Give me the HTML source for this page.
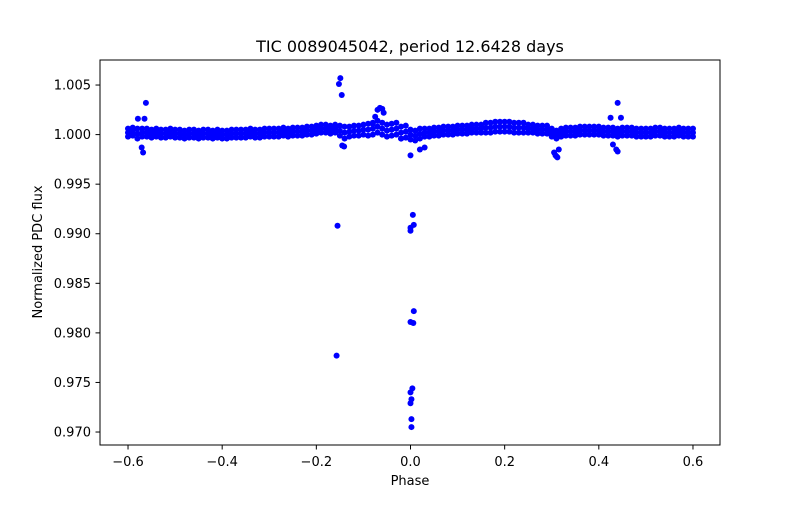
<!DOCTYPE html>
<html><head><meta charset="utf-8"><style>
body{margin:0;background:#fff;font-family:"Liberation Sans","DejaVu Sans",sans-serif}
svg text{font-family:"DejaVu Sans","Liberation Sans",sans-serif}
</style></head><body>
<svg id="chart" width="800" height="500" xmlns="http://www.w3.org/2000/svg">
<rect width="800" height="500" fill="#fff"/>
<text x="410" y="52" font-size="16" text-anchor="middle">TIC 0089045042, period 12.6428 days</text>
<g id="points"></g>
<rect x="100" y="60" width="620" height="385" fill="none" stroke="#000" stroke-width="1"/>
<g id="xaxis"></g>
<g id="yaxis"></g>
<text x="410" y="485" font-size="13" text-anchor="middle">Phase</text>
<text transform="translate(42,252) rotate(-90)" font-size="13" text-anchor="middle">Normalized PDC flux</text>
</svg>
<script>
const xTicks=[-0.6,-0.4,-0.2,0.0,0.2,0.4,0.6];
const xTickLabels=["−0.6","−0.4","−0.2","0.0","0.2","0.4","0.6"];
const yTicks=[0.970,0.975,0.980,0.985,0.990,0.995,1.000,1.005];
const yTickLabels=["0.970","0.975","0.980","0.985","0.990","0.995","1.000","1.005"];
const basePhaseStart=-0.60;
const basePhaseStep=0.01;
const baseFlux=[1.0002,1.0003,1.0001,1.0002,1.0002,1.0001,1.0002,1.0001,1.0001,1.0002,
1.0001,1.0001,1.0000,1.0001,1.0001,1.0000,1.0001,1.0001,1.0000,1.0001,
1.0000,1.0000,1.0001,1.0001,1.0001,1.0001,1.0002,1.0001,1.0001,1.0002,
1.0002,1.0002,1.0002,1.0003,1.0002,1.0003,1.0003,1.0003,1.0004,1.0004,
1.0005,1.0006,1.0006,1.0005,1.0006,1.0004,1.0002,1.0003,1.0004,1.0004,
1.0005,1.0005,1.0006,1.0008,1.0006,1.0004,1.0005,1.0006,1.0002,1.0003,
1.0000,0.9999,1.0001,1.0002,1.0002,1.0003,1.0003,1.0004,1.0004,1.0004,
1.0005,1.0005,1.0005,1.0006,1.0006,1.0006,1.0007,1.0007,1.0008,1.0008,
1.0008,1.0008,1.0007,1.0007,1.0007,1.0006,1.0006,1.0005,1.0005,1.0005,
1.0002,1.0000,1.0002,1.0003,1.0003,1.0003,1.0004,1.0004,1.0004,1.0004,
1.0004,1.0003,1.0003,1.0003,1.0002,1.0003,1.0003,1.0003,1.0002,1.0002,
1.0002,1.0002,1.0003,1.0003,1.0002,1.0002,1.0002,1.0003,1.0002,1.0002,1.0002];
const baseSpread=[0.0004,0.0004,0.0005,0.0004,0.0004,0.0004,0.0004,0.0004,0.0004,0.0004,
0.0004,0.0004,0.0004,0.0004,0.0004,0.0004,0.0004,0.0004,0.0004,0.0004,
0.0004,0.0004,0.0004,0.0004,0.0004,0.0004,0.0004,0.0004,0.0004,0.0004,
0.0004,0.0004,0.0004,0.0004,0.0004,0.0004,0.0004,0.0004,0.0004,0.0004,
0.0004,0.0004,0.0004,0.0004,0.0004,0.0005,0.0006,0.0005,0.0005,0.0005,
0.0005,0.0006,0.0006,0.0006,0.0006,0.0006,0.0006,0.0006,0.0006,0.0006,
0.0005,0.0005,0.0005,0.0004,0.0004,0.0004,0.0004,0.0004,0.0004,0.0004,
0.0004,0.0004,0.0004,0.0004,0.0004,0.0004,0.0005,0.0005,0.0005,0.0005,
0.0005,0.0005,0.0005,0.0005,0.0005,0.0004,0.0004,0.0004,0.0004,0.0004,
0.0004,0.0004,0.0004,0.0004,0.0004,0.0004,0.0004,0.0004,0.0004,0.0004,
0.0004,0.0004,0.0004,0.0004,0.0004,0.0004,0.0004,0.0004,0.0004,0.0004,
0.0004,0.0004,0.0004,0.0004,0.0004,0.0004,0.0004,0.0004,0.0004,0.0004,0.0004];
const outPhase=[-0.579,-0.562,-0.565,-0.568,-0.571,-0.149,-0.152,-0.146,-0.145,-0.141,-0.155,-0.157,
-0.08,-0.075,-0.07,-0.065,-0.06,-0.057,0.0,-0.02,0.02,0.03,
0.005,0.0,0.0,0.007,0.007,0.0,0.006,0.004,0.0,0.002,0.0,0.002,0.002,
0.44,0.425,0.447,0.43,0.437,0.44,0.31,0.312,0.305,0.315,0.308];
const outFlux=[1.0016,1.0032,1.0016,0.9982,0.9987,1.0057,1.0051,1.0040,0.9989,0.9988,0.9908,0.9777,
1.0011,1.0018,1.0025,1.0027,1.0026,1.0022,0.9979,0.9996,0.9985,0.9987,
0.9919,0.9906,0.9903,0.9909,0.9822,0.9811,0.9810,0.9744,0.9740,0.9733,0.9729,0.9713,0.9705,
1.0032,1.0017,1.0017,0.9990,0.9985,0.9983,0.9978,0.9977,0.9982,0.9985,0.9979];
const X0=410.5,XS=470.8,Y1=134.6,YS=9914;
function xs(p){return X0+p*XS;}
function ys(f){return Y1-(f-1)*YS;}
const NS="http://www.w3.org/2000/svg";
const pts=document.getElementById('points');
function dot(p,f){
  const c=document.createElementNS(NS,'circle');
  c.setAttribute('cx',xs(p));c.setAttribute('cy',ys(f));c.setAttribute('r',3);c.setAttribute('fill','#0000ff');
  
  
  pts.appendChild(c);
}
baseFlux.forEach((f,i)=>{
  const p=basePhaseStart+i*basePhaseStep;
  dot(p,f);dot(p,f+baseSpread[i]);dot(p,f-baseSpread[i]);
});
outPhase.forEach((p,i)=>dot(p,outFlux[i]));
const xa=document.getElementById('xaxis');
xTicks.forEach((t,i)=>{
  const x=xs(t);
  const l=document.createElementNS(NS,'line');
  l.setAttribute('x1',x);l.setAttribute('x2',x);l.setAttribute('y1',445);l.setAttribute('y2',449.5);l.setAttribute('stroke','#000');
  
  
  xa.appendChild(l);
  const tx=document.createElementNS(NS,'text');
  tx.setAttribute('x',x);tx.setAttribute('y',466);tx.setAttribute('font-size','13');tx.setAttribute('text-anchor','middle');
  tx.textContent=xTickLabels[i];
  
  
  xa.appendChild(tx);
});
const ya=document.getElementById('yaxis');
yTicks.forEach((t,i)=>{
  const y=ys(t);
  const l=document.createElementNS(NS,'line');
  l.setAttribute('x1',95.5);l.setAttribute('x2',100);l.setAttribute('y1',y);l.setAttribute('y2',y);l.setAttribute('stroke','#000');
  
  
  ya.appendChild(l);
  const tx=document.createElementNS(NS,'text');
  tx.setAttribute('x',91);tx.setAttribute('y',y+4.5);tx.setAttribute('font-size','13');tx.setAttribute('text-anchor','end');
  tx.textContent=yTickLabels[i];
  
  
  ya.appendChild(tx);
});
</script>
</body></html>
